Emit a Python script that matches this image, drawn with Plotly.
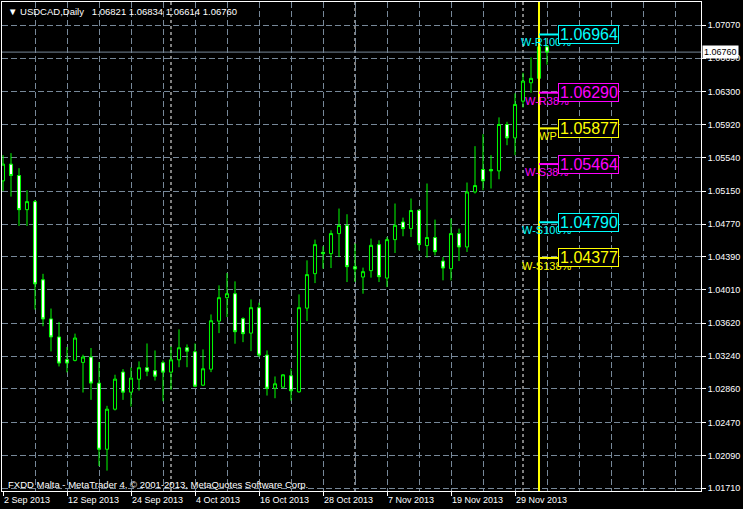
import plotly.graph_objects as go

# ---------------- data (USDCAD daily) ----------------
opens = [1.05269, 1.05463, 1.05331, 1.04936, 1.05029, 1.04124, 1.03671, 1.03462, 1.03199, 1.03191,
         1.03168, 1.03230, 1.02928, 1.02162, 1.02626, 1.03056, 1.02823, 1.02973, 1.03106, 1.03071,
         1.03164, 1.03055, 1.03198, 1.03337, 1.03291, 1.02904, 1.03089, 1.03646, 1.03917, 1.03963,
         1.03674, 1.03507, 1.03801, 1.03252, 1.02869, 1.02881, 1.03013, 1.02827, 1.03796, 1.04195,
         1.04442, 1.04427, 1.04659, 1.04752, 1.04276, 1.04156, 1.04230, 1.04531, 1.04144, 1.04589,
         1.04793, 1.04717, 1.04929, 1.04520, 1.04613, 1.04341, 1.04253, 1.04659, 1.04504, 1.05141,
         1.05401, 1.05401, 1.05385, 1.05922, 1.05767, 1.06192, 1.06405, 1.06456, 1.06821]
highs = [1.05567, 1.05590, 1.05416, 1.05161, 1.05049, 1.04193, 1.03791, 1.03636, 1.03346, 1.03501,
         1.03257, 1.03334, 1.03172, 1.02665, 1.03025, 1.03090, 1.03110, 1.03179, 1.03387, 1.03306,
         1.03190, 1.03352, 1.03550, 1.03376, 1.03387, 1.03318, 1.03723, 1.04060, 1.04202, 1.04106,
         1.03690, 1.03897, 1.03859, 1.03306, 1.03005, 1.03030, 1.03094, 1.03955, 1.04349, 1.04589,
         1.04512, 1.04697, 1.04949, 1.04883, 1.04543, 1.04265, 1.04601, 1.04581, 1.04619, 1.05007,
         1.04844, 1.05065, 1.04935, 1.05239, 1.04821, 1.04388, 1.04833, 1.04717, 1.05250, 1.05671,
         1.05810, 1.05567, 1.06004, 1.05953, 1.06282, 1.06521, 1.06699, 1.06900, 1.06834]
lows = [1.05153, 1.05087, 1.04747, 1.04747, 1.03779, 1.03586, 1.03295, 1.03121, 1.03052, 1.03179,
        1.02819, 1.02734, 1.01968, 1.01915, 1.02611, 1.02734, 1.02657, 1.02842, 1.03008, 1.02958,
        1.02718, 1.02851, 1.03112, 1.03112, 1.02881, 1.02895, 1.03055, 1.03507, 1.03692, 1.03384,
        1.03402, 1.03298, 1.03228, 1.02784, 1.02753, 1.02870, 1.02726, 1.02816, 1.03646, 1.04086,
        1.04253, 1.04260, 1.04388, 1.04098, 1.04098, 1.03963, 1.04149, 1.04098, 1.04040, 1.04434,
        1.04628, 1.04620, 1.04465, 1.04381, 1.04407, 1.04118, 1.04118, 1.04341, 1.04446, 1.05123,
        1.05161, 1.05181, 1.05288, 1.05682, 1.05567, 1.06119, 1.06289, 1.06358, 1.06614]
closes = [1.05463, 1.05331, 1.04936, 1.05029, 1.04077, 1.03671, 1.03462, 1.03160, 1.03160, 1.03450,
          1.03230, 1.02928, 1.02162, 1.02626, 1.02974, 1.02823, 1.02986, 1.03106, 1.03066, 1.03008,
          1.03055, 1.03198, 1.03337, 1.03298, 1.02892, 1.03094, 1.03650, 1.03917, 1.03963, 1.03523,
          1.03500, 1.03801, 1.03252, 1.02869, 1.02920, 1.03024, 1.02839, 1.03801, 1.04184, 1.04531,
          1.04427, 1.04659, 1.04752, 1.04276, 1.04249, 1.04218, 1.04523, 1.04160, 1.04589, 1.04755,
          1.04717, 1.04926, 1.04531, 1.04613, 1.04450, 1.04260, 1.04659, 1.04504, 1.05141, 1.05215,
          1.05269, 1.05385, 1.05922, 1.05767, 1.06154, 1.06424, 1.06456, 1.06821, 1.06760]

date_tick_idx = [0, 8, 16, 24, 32, 40, 48, 56, 64]
date_tick_labels = ["2 Sep 2013", "12 Sep 2013", "24 Sep 2013", "4 Oct 2013", "16 Oct 2013",
                    "28 Oct 2013", "7 Nov 2013", "19 Nov 2013", "29 Nov 2013"]
month_sep_idx = [21, 44, 65]

price_ticks = [1.07070, 1.06690, 1.06300, 1.05920, 1.05540, 1.05150, 1.04770, 1.04390,
               1.04010, 1.03620, 1.03240, 1.02860, 1.02470, 1.02090, 1.01710]

pivot_names = ["W-R100%", "W-R38%", "WP", "W-S38%", "W-S100%", "W-S138%"]
pivot_levels = [1.06964, 1.06290, 1.05877, 1.05464, 1.04790, 1.04377]
pivot_colors = ["#00FFFF", "#FF00FF", "#FFFF00", "#FF00FF", "#00FFFF", "#FFFF00"]
pivot_name_shift = [-20, -16, -2, -16, -19, -19]
pivot_bar = 67

last_price = 1.06760
title_text = "\u25BC USDCAD,Daily\u00a0\u00a0 1.06821 1.06834 1.06614 1.06760"
footer_text = "FXDD Malta - MetaTrader 4, \u00a9 2001-2013, MetaQuotes Software Corp."

# ---------------- figure ----------------
GRID = "#778899"
GREEN = "#00FF00"
FONT = "Liberation Sans, Arial, sans-serif"
bars = list(range(len(opens)))

fig = go.Figure()
fig.add_trace(go.Candlestick(
    x=bars, open=opens, high=highs, low=lows, close=closes,
    increasing=dict(fillcolor="#000000", line=dict(color=GREEN, width=1)),
    decreasing=dict(fillcolor="#FFFFFF", line=dict(color=GREEN, width=1)),
    whiskerwidth=0, hoverinfo="skip", showlegend=False,
))

shapes = []
for s in month_sep_idx:
    shapes.append(dict(type="line", xref="x", yref="paper", x0=s, x1=s, y0=0, y1=1,
                       line=dict(color="#FFFFFF", width=1, dash="3px,3px"), layer="between"))
shapes.append(dict(type="line", xref="paper", yref="y", x0=0, x1=1, y0=last_price, y1=last_price,
                   line=dict(color=GRID, width=1), layer="between"))
shapes.append(dict(type="line", xref="x", yref="paper", x0=pivot_bar, x1=pivot_bar, y0=0, y1=1,
                   line=dict(color="#FFFF00", width=2), layer="above"))
for lvl, col in zip(pivot_levels, pivot_colors):
    shapes.append(dict(type="line", xref="x", yref="y", x0=pivot_bar, x1=pivot_bar + 19 / 8,
                       y0=lvl, y1=lvl, line=dict(color=col, width=2), layer="above"))

ann = []
ann.append(dict(xref="paper", yref="paper", x=0, y=1, xanchor="left", yanchor="middle",
                xshift=4, yshift=-9, text=title_text, showarrow=False,
                font=dict(family=FONT, size=9.5, color="#FFFFFF")))
ann.append(dict(xref="paper", yref="paper", x=0, y=0, xanchor="left", yanchor="middle",
                xshift=4, yshift=7, text=footer_text, showarrow=False,
                font=dict(family=FONT, size=9.5, color="#FFFFFF")))
for name, lvl, col, sh in zip(pivot_names, pivot_levels, pivot_colors, pivot_name_shift):
    ann.append(dict(xref="x", yref="y", x=pivot_bar, y=lvl, xanchor="left", yanchor="middle",
                    xshift=sh, yshift=-8, text=name, showarrow=False,
                    font=dict(family=FONT, size=11, color=col)))
for lvl, col in zip(pivot_levels, pivot_colors):
    ann.append(dict(xref="x", yref="y", x=pivot_bar, y=lvl, xanchor="left", yanchor="middle",
                    xshift=19, text=f"{lvl:.5f}", showarrow=False, align="right",
                    bgcolor="#000000", bordercolor=col, borderwidth=1, borderpad=0,
                    width=59, height=17,
                    font=dict(family=FONT, size=16, color=col)))
ann.append(dict(xref="paper", yref="y", x=1, y=last_price, xanchor="left", yanchor="middle",
                xshift=1, text=f"{last_price:.5f}", showarrow=False,
                bgcolor="#FFFFFF", borderpad=1,
                font=dict(family=FONT, size=9, color="#000000")))

fig.update_layout(
    width=743, height=509,
    margin=dict(l=2, r=42, t=2, b=18, autoexpand=False),
    paper_bgcolor="#000000", plot_bgcolor="#000000",
    showlegend=False, boxgap=0.45,
    shapes=shapes, annotations=ann,
    xaxis=dict(
        range=[-0.125, 87.25], rangeslider=dict(visible=False),
        tickmode="array", tickvals=date_tick_idx, ticktext=date_tick_labels,
        ticklabelposition="outside right",
        ticks="outside", ticklen=4, tickcolor="#FFFFFF",
        tickfont=dict(family=FONT, size=9, color="#FFFFFF"),
        showgrid=True, gridcolor=GRID, griddash="6px,3px", gridwidth=1,
        minor=dict(tickmode="linear", tick0=0, dtick=4, showgrid=True, gridcolor=GRID,
                   griddash="6px,3px", ticks=""),
        showline=True, linecolor="#FFFFFF", linewidth=1, mirror=True,
        zeroline=False, fixedrange=True,
    ),
    yaxis=dict(
        side="right", range=[1.01679, 1.07340],
        tickmode="array", tickvals=price_ticks, ticktext=[f"{v:.5f}" for v in price_ticks],
        ticks="outside", ticklen=4, tickcolor="#FFFFFF",
        tickfont=dict(family=FONT, size=9, color="#FFFFFF"),
        showgrid=True, gridcolor=GRID, griddash="6px,3px", gridwidth=1,
        showline=True, linecolor="#FFFFFF", linewidth=1, mirror=True,
        zeroline=False, fixedrange=True,
    ),
)

fig.write_html("out.html", config={"displayModeBar": False},
               post_script="document.body.style.margin='0px';document.body.style.background='#000';")
